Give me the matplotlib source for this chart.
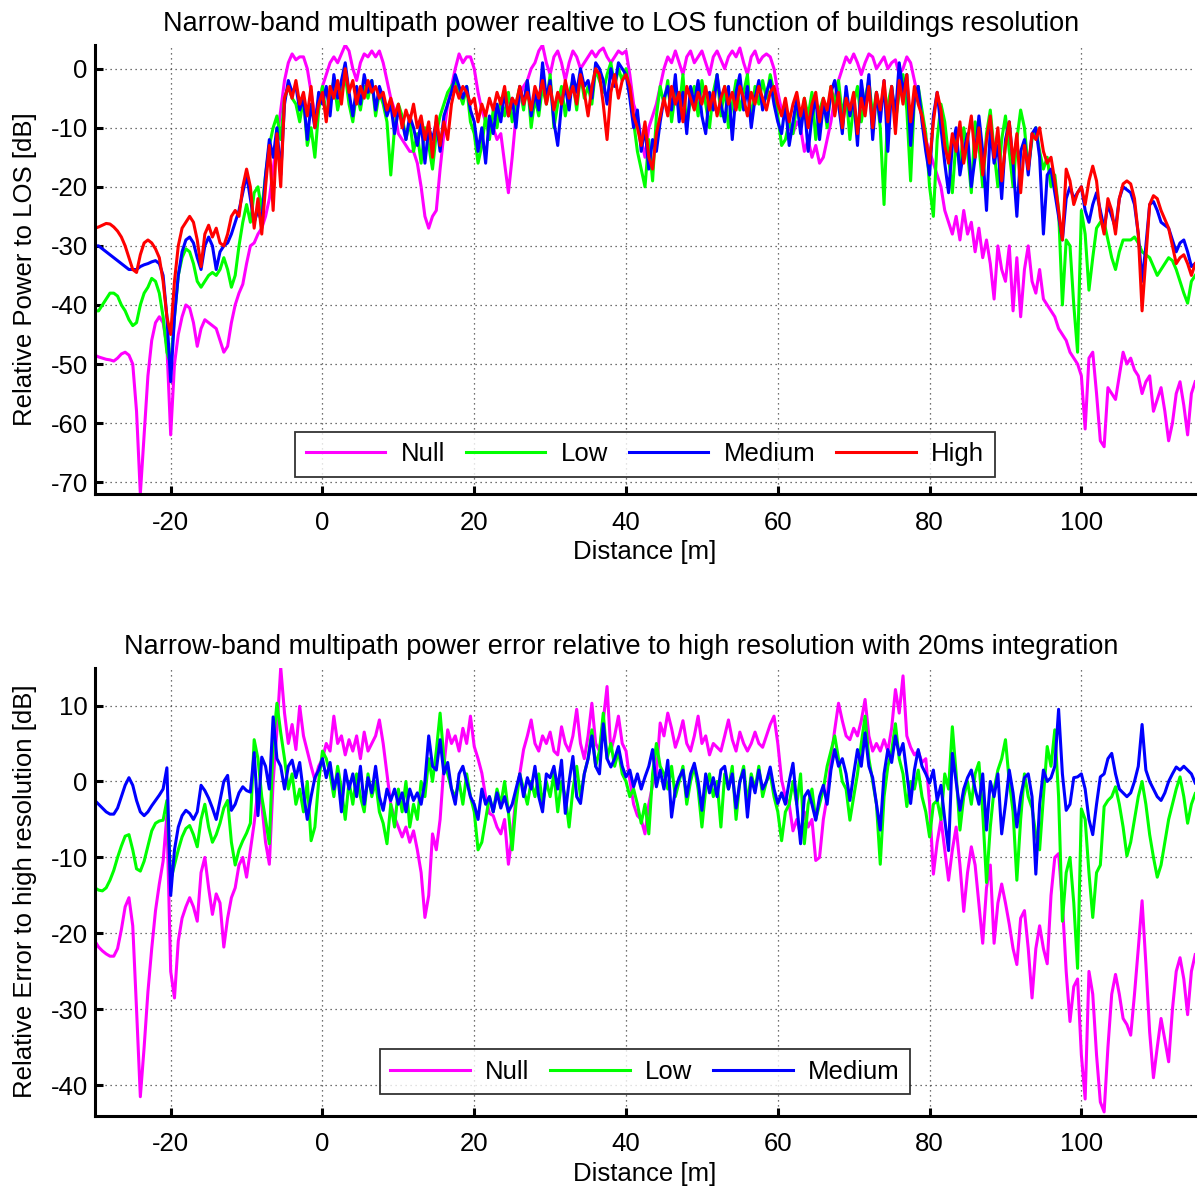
""" Narrow-band multipath power vs buildings resolution """

import numpy as np
import matplotlib
matplotlib.use("Agg")
import matplotlib.pyplot as plt

OUT_FILE = "out.png"
X_START  = -30.0
X_STEP   = 0.5
N_POINTS = 291
FONT_SZ  = 18.5

LABELS_TOP    = ["Null", "Low", "Medium", "High"]
LABELS_BOTTOM = ["Null", "Low", "Medium"]
COLORS        = ["#ff00ff", "#00ff00", "#0000ff", "#ff0000"]

# relative power to LOS [dB], one value every 0.5 m from -30 m to 115 m
top_null = [
    -48.5, -48.8, -49, -49.2, -49.3, -49.5, -49, -48.3, -48, -48.5, -50, -58, -72, -62, -52, -46, -43, -42, -43, -47,
    -62, -50, -45, -42, -40, -40.5, -43, -47, -44, -42.5, -43, -43.5, -44, -46, -48, -47, -43, -40, -38, -36.5,
    -33, -30, -29.5, -28, -27, -25, -22, -17, -12, -7, -2, 1, 2.5, 1.5, 2, 2, 0, -4, -8, -6,
    -3, -1, 1, 2, 1, 2.5, 4, 3, 0, -2, 1, 2.5, 2, 3, 2, 3, 1, -2, -5, -7,
    -11, -12, -13, -14, -14, -16, -20, -25, -27, -25, -24, -17, -11, -6, -3, 0, 2.5, 1, 2, 2,
    0, -4, -7, -9, -11, -10, -12, -11, -16, -21, -15, -8, -5, -3, -2, 0, 1, 3, 4, 1,
    -1, 2, 3, 1, -2, 1, 3, 2, 0, 1, 2, 3, 2, 3, 3.5, 2, 1, 2, 3, 2.5,
    3, -1, -6, -8, -12, -15, -10, -8, -6, -3, 0, 2, 1, 3, 1, -1, 2, 3, 1, 2,
    3, 1, -1, 2, 3, 1.5, 0, 2, 3, 2, 3.5, 1, -1, 2, 3, 1, 2, 2.5, 2, 0,
    -4, -7, -8, -10, -11, -9, -10, -14, -12, -15, -13, -16, -15, -12, -9, -5, -2, 0, 2, 1,
    2.5, 1, -1, 1, 2.5, 2, 0, 1, 2, 0, 1, 1.5, -1, 0, 2, 1, -2, -5, -8, -12,
    -14, -16, -18, -20, -24, -26, -28, -25, -29, -24, -28, -26, -31, -27, -32, -29, -33, -39, -30, -34,
    -36, -30, -41, -32, -42, -34, -30, -36, -38, -34, -39, -40, -41, -42, -44, -45, -46, -48, -49, -50,
    -52, -61, -49, -48, -55, -63, -64, -54, -55, -56, -52, -48, -50, -49, -51, -52, -55, -53, -52, -58,
    -56, -54, -58, -63, -60, -55, -53, -57, -62, -55, -53,
]
top_low = [
    -41, -41, -40, -39, -38, -38, -38.5, -40, -41, -42.5, -43.5, -43, -40, -38, -37, -35.5, -36, -38, -42, -48,
    -50, -42, -35, -32, -30.5, -31, -33, -36, -37, -36, -35, -34.5, -35, -34, -32, -34, -37, -35, -30, -26,
    -23, -26, -21, -20, -24, -18, -13, -10, -8, -12, -5, -3, -5, -6, -9, -5, -13, -10, -15, -7,
    -3, -8, -5, -2, -7, -4, -1, -6, -9, -4, -7, -3, -5, -2, -8, -4, -6, -9, -18, -10,
    -6, -8, -12, -9, -14, -11, -16, -10, -13, -17, -11, -8, -6, -4, -3, -2, -4, -6, -3, -9,
    -11, -16, -13, -8, -12, -7, -10, -5, -8, -4, -9, -6, -3, -7, -2, -10, -5, -8, -3, -6,
    -1, -10, -6, -3, -8, -4, -2, -7, -1, -5, -3, -6, 0, -2, -4, -1, 1, -3, 0, -2,
    0, -4, -9, -14, -17, -20, -12, -19, -8, -3, -6, -2, -9, -4, -7, -1, -10, -5, -3, -8,
    -2, -6, -10, -4, -1, -8, -3, -10, -6, -2, -7, -4, -1, -9, -3, -6, -2, -5, -1, -4,
    -8, -13, -12, -9, -11, -6, -10, -5, -8, -4, -12, -7, -5, -10, -3, -6, -2, -8, -4, -12,
    -6, -3, -9, -5, -2, -8, -4, -10, -23, -6, -3, -9, -4, -1, -7, -19, -5, -3, -7, -11,
    -20, -25, -12, -6, -9, -15, -21, -12, -17, -10, -14, -21, -9, -13, -20, -11, -7, -14, -20, -12,
    -8, -14, -20, -12, -7, -10, -17, -12, -10, -14, -17, -15, -20, -18, -24, -40, -29, -30, -40, -48,
    -24, -28, -37.5, -32, -27, -26, -26, -29, -32, -34, -31, -29, -29, -29, -28.5, -29.5, -31, -31.5, -32, -33.5,
    -35, -34, -33, -32, -32.5, -34, -36, -38, -39.7, -36, -35,
]
top_medium = [
    -30, -30, -30.5, -31, -31.5, -32, -32.5, -33, -33.5, -34, -34, -34, -33.5, -33.2, -33, -32.7, -32.5, -33, -35, -42,
    -53, -42, -35, -31, -29, -28.5, -29.5, -32, -34, -30, -28.5, -30, -34, -31, -30, -29.5, -28, -26, -24, -21,
    -18, -22, -26, -24, -26, -18, -12, -15, -10, -18, -6, -2, -4, -3, -7, -5, -12, -6, -10, -4,
    -6, -3, -8, -1, -5, -2, 1, -4, -8, -3, -6, -1, -4, -2, -7, -3, -5, -8, -6, -11,
    -7, -9, -12, -8, -10, -13, -9, -16, -10, -12, -9, -14, -8, -6, -4, -1, -3, -5, -3, -7,
    -9, -14, -10, -16, -8, -11, -6, -9, -4, -8, -5, -10, -3, -6, -2, -8, -4, -7, 1, -5,
    -2, -9, -13, -6, -3, -7, -1, -4, 0, -3, -2, -5, 1, 0, -2, -6, 0, -3, 1, 0,
    -1, -5, -10, -7, -14, -10, -17, -12, -14, -9, -5, -3, -7, -1, -9, -4, -11, -3, -6, -2,
    -8, -11, -4, -7, -1, -6, -9, -3, -12, -4, -1, -7, -3, -10, -5, -2, -7, -4, -2, -6,
    -9, -11, -6, -13, -9, -5, -11, -6, -14, -8, -5, -12, -6, -9, -4, -2, -6, -11, -3, -8,
    -5, -13, -2, -7, -1, -12, -4, -9, -2, -14, -3, -8, 1, -4, -1, -13, -5, -3, -9, -14,
    -18, -8, -4, -10, -16, -21, -13, -10, -18, -14, -11, -20, -15, -8, -14, -24, -10, -16, -13, -22,
    -12, -9, -16, -25, -14, -12, -18, -11, -10, -15, -28, -18, -17, -21, -25, -29, -22, -20, -22, -21,
    -20, -24, -26, -23, -21, -24, -27, -23, -25, -27, -22, -20, -20.5, -21, -23, -28, -36, -30, -23, -22.5,
    -24, -26, -26.5, -27, -29, -31, -29.5, -29, -31, -33.5, -33,
]
top_high = [
    -27, -26.8, -26.5, -26.2, -26.3, -26.8, -27.5, -28.5, -30, -32, -34, -34.5, -31.5, -29.5, -29, -29.5, -30.5, -32, -36, -42,
    -45, -36, -30, -27, -26, -25, -26, -29, -33.5, -28, -26.5, -28.5, -27, -29.5, -30, -28, -25, -24, -25, -20,
    -17, -20, -27, -22, -28, -20, -13, -24, -11, -20, -5, -3, -5, -2, -6, -4, -8, -3, -10, -6,
    -4, -9, -3, -5, -2, -6, 0, -4, -2, -6, -3, -5, -2, -4, -3, -5, -4, -7, -5, -8,
    -6, -10, -7, -9, -6, -10, -8, -12, -9, -15, -8, -13, -9, -12, -6, -3, -5, -3, -4, -6,
    -5, -9, -6, -8, -5, -7, -4, -6, -3, -8, -5, -6, -3, -6, -4, -7, -3, -5, -2, -6,
    -3, -7, -4, -6, -2, -5, -3, -6, -1, -4, -8, -3, 0, -1, -6, -12, -4, -1, -5, -2,
    -1, -3, -8, -10, -13, -9, -15, -17, -11, -8, -5, -8, -3, -6, -4, -9, -3, -5, -7, -4,
    -6, -3, -7, -4, -8, -5, -3, -6, -4, -7, -3, -5, -8, -4, -6, -3, -5, -7, -4, -3,
    -6, -8, -5, -9, -6, -4, -8, -5, -10, -6, -4, -9, -5, -7, -3, -8, -4, -10, -5, -7,
    -4, -11, -5, -8, -3, -10, -4, -7, -2, -9, -3, -11, -2, -6, -1, -9, -3, -6, -8, -12,
    -16, -9, -4, -7, -13, -16, -11, -14, -9, -16, -12, -8, -15, -10, -18, -12, -8, -15, -10, -19,
    -13, -9, -16, -11, -21, -13, -17, -11, -12, -10, -14, -16, -15, -19, -24, -29, -17, -19, -23, -21,
    -20, -23, -19, -16.5, -19, -25, -28, -22, -24, -28, -22, -19.5, -19, -19.5, -22, -28, -41, -32, -23, -21.5,
    -22, -24, -25.5, -27, -30, -33, -32, -31.5, -33, -35, -33,
]

# error relative to high resolution [dB], same grid
err_null = [
    -21, -21.8, -22.3, -22.7, -23, -23, -22, -19.5, -16.5, -15.3, -19, -30, -41.5, -35, -27.7, -22, -17, -13.5, -10.5, -4.5,
    -25, -28.5, -21, -18, -16.5, -15.3, -16.5, -18.4, -12, -10, -14, -17.5, -14.8, -16, -21.8, -18, -15.3, -14, -11, -10,
    -12.6, -9, -5.5, -1, -3, -8, -10.9, 0, 6.8, 15, 9, 5, 7.5, 4.2, 9.9, 6, 4, 2, 0.2, 2,
    3, 5, 4, 8.6, 5, 6, 3.5, 5.5, 4, 6, 3, 6.5, 4, 5, 6, 8.1, 5, 1, -3, -4.7,
    -6, -7.3, -6, -8, -6.5, -9, -12, -17.9, -15, -6.9, -9, -5, 2, 6.8, 5, 6, 4, 7, 5, 8.6,
    4.6, 3, 1.1, -2, -4.2, -4.5, -6, -6.9, -5, -10.9, -7, -2, 1, 4.2, 6, 8.1, 5, 4, 6, 5,
    6.5, 4, 3.5, 7.2, 5, 4, 6, 9.5, 5, 3, 6, 10.3, 5, 4, 8, 12.5, 4, 6, 8.6, 5,
    4, 0.2, -3, -4.5, -5, -6.9, -3, -0.5, 1, 7.7, 6, 9, 7, 4.5, 6, 8, 5, 4, 6, 8.6,
    5, 6, 3.5, 5, 4.5, 4, 6, 8.1, 5.5, 4, 6.5, 5, 4, 5, 6.5, 5, 4.5, 6, 7.5, 8.6,
    5, 0.2, -2, -3, -6.5, -5, -7, -4, -6, -5, -10.4, -10, -5, -2, 3, 6.8, 10.3, 8, 6, 5.5,
    7, 6, 8, 10.8, 6, 4, 5, 4, 5.5, 4, 7, 12.1, 9, 13.9, 6, 4.5, 3.5, 4, 2.5, 3,
    -2.9, -12.2, -8, -5, -9, -13, -9, -6, -11, -17.1, -12, -8.6, -11, -16.2, -21.3, -14, -11, -21.3, -16, -13.5,
    -16, -18.8, -22, -24.1, -18, -17, -22, -28.5, -22, -19, -22, -24, -15, -10, -9.5, -16, -25, -31.6, -27, -26,
    -36, -41.8, -25, -28, -36, -42.2, -43.5, -35, -28, -25.4, -28, -31.2, -32, -33.4, -28, -22, -15.7, -24, -33, -39,
    -35, -31.2, -34, -36.9, -30, -25, -23.2, -26, -30.7, -25, -22.8,
]
err_low = [
    -14, -14.3, -14.4, -14, -13, -11.7, -10, -8.5, -7.2, -7, -9, -11.5, -11.8, -10.5, -8.5, -6.5, -5.5, -5.2, -5.1, -2.5,
    -13, -11, -9, -7.3, -6.2, -5.8, -7, -8.6, -5, -3, -6, -8, -7, -5.5, -3.5, -2.5, -8, -11, -9, -7.8,
    -6.8, -5.5, 5.5, 3, -2, -5, -8.2, 5, 10.3, 6.4, 3, -1, 1, -3, -1, -4, 0, -7.8, -6, 0,
    4, 3, 1, -2, 2, -1, -5, 0, -3, 1, -2, -4, 1, -2, 0, -4, -5.5, -8.2, -3, -6,
    -1, -4, 0, -6, -3, -5, 0, -2, 3, 0, 4, 9, 3, 1, -1, -2, 0, -3, 1, -2,
    -4, -9, -8, -5, -2, -4, -1, -3, 0, -4, -9, -3, 1, -1, -3, 0, -2, 1, -3, 0,
    -2, 1, -4, 0, -2, -6, -1, 2, -2, 1, 3, 6.8, 2, 4, 9, 3, 5, 2, 4, 1,
    0, -2, -1, -3, -5.5, -3, -6.9, 1, 5, 2, 1, -1, 2, -2, 0, 2, -3, 0, 2, -1,
    -6, -1, 1, -2, 0, -6, 1, -1, 2, -5, 0, 2, -3, 1, -1, 2, -2, 0, 1, -2,
    -4, -7.8, -4, -3, 0, -3, 1, -8.2, -3, -1, -5, -3, -1, 2, 4, 6, 3, 0, -1, -5.1,
    -2, 1, 5, 8.6, 3, 0, -3, -10.9, -2, 2, 4, 7.6, 3, 1, -3.3, 0, -1, 1.5, -2, -4,
    -7.3, -3, -2.5, -5, 1, -1, 7.2, 1, -6.4, -2, 0, -3, 1, 2.5, -4, -13.3, -6, -1, 1.5, 3,
    5.5, 0, -4, -13, -5, 1, -2, -3.5, -7, -9, -2, 4.6, 2, 6.8, -2, -18.4, -12, -10, -16, -24.6,
    -3.6, -5, -12, -17.9, -12, -11, -3.3, -2.5, -2, -0.7, -3, -6, -9.8, -8, -5, -2, 0, -3, -7, -10,
    -12.6, -11, -8, -5, -3, -1, 0.6, -2, -5.5, -3, -1.6,
]
err_medium = [
    -2.5, -3, -3.5, -4, -4.3, -4.3, -3.5, -2, -0.5, 0.5, -0.5, -2.5, -4, -4.5, -4, -3.2, -2.5, -1.8, -1, 1.8,
    -15, -9, -6, -4.5, -3.8, -4.2, -5, -4, -0.5, -1.2, -2.2, -3.5, -5, -2.5, 0, 0.8, -3.8, -3, -1.5, -0.7,
    -1.2, -1.4, 3.8, -4.5, 3.2, 2, -1, 8.5, 3, 2, -1, 2, 2.8, 0.5, 2.5, -1.5, -5, -2, 0.5, 1.5,
    3, 0.5, 2.5, -1, 1, -4, 1.5, -1, 1, -2, 2, -3, 0.5, -1.5, 2, -2, -3.8, -1, -2.5, -1,
    -3, -1.5, -4, -1, -2.5, -1.5, -3, 0, 6, 2, 1.5, 5.5, 1, 2.5, -1, -3, 1, 2, 0, -2,
    -3, -5, -1, -3, -2, -4, -1.5, -3.5, -2, -4, -3, -1, 1, -2, 0.5, -1, 2, -2, -4, 1,
    0.5, 2, -1, 2.8, -4.2, 0, 3.3, -2, -2.9, 1, 3, 6, 2, 1, 7.6, 3, 1.9, 3, 4.6, 2,
    0.6, 1.5, -0.7, 1, -1, 0.6, 2, 4.2, -0.7, 1.5, -1, 2.8, -4.7, -1, 0.5, 1.5, -2, 1, 2.4, 0,
    -3.8, 1, -1.5, 0.5, -2, 1.5, 2, -1, 1, -3.5, 0, 1.5, -4.7, 0.5, -1.5, 1.5, -1, 0, 1.9, -1,
    -2.9, -1.5, -3, 0, 2.4, -3, -8.2, -2, -1.2, -3, -5.1, -2, -0.5, -3, 1.5, 4.2, 2, 3, 1, -2.5,
    1, 4.2, 2, 6.4, 2, 0.5, -3, -6.4, 1, 4.2, 2.5, 6, 3.5, 5, 1, -2.9, 1.5, 4.2, 2, 1,
    -0.2, 1.5, -2.5, -0.5, -5, -9.1, 3.7, 0, -3.8, -1, 0.5, 1.5, -1, -3, 1, -6.4, 0, -2, 1, -6.9,
    -3, 1.5, -1.5, -6, -2, 0.5, 1, -2, -12.2, -3, 1.5, 0, 0.5, 2, 9.5, 1, -3.8, -3, 0.5, 0.6,
    1, -1, -5, -7, -3, 0.6, 1, 3, 3.7, 1, -1, -1.5, -2, -1.5, 0, 2, 7.5, 1.5, 0, -1,
    -2, -2.5, -1.5, 0, 1, 1.9, 1.5, 2, 1.5, 1, -0.2,
]


def style_axes(ax, ylim, yticks):
    """ matlab-ish look: open box, dotted grid, ticks inside """
    ax.set_xlim(-30, 115)
    ax.set_ylim(*ylim)
    ax.set_xticks([-20, 0, 20, 40, 60, 80, 100])
    ax.set_yticks(yticks)
    ax.spines["top"].set_visible(False)
    ax.spines["right"].set_visible(False)
    ax.spines["left"].set_linewidth(2.2)
    ax.spines["bottom"].set_linewidth(2.2)
    ax.tick_params(direction="in", length=6, width=2.2, labelsize=FONT_SZ)
    ax.tick_params(axis="x", pad=12)
    ax.tick_params(axis="y", pad=5)
    ax.grid(True, linestyle=(0, (1, 3)), color="#444444", linewidth=0.9)
    ax.set_axisbelow(True)
    ax.set_xlabel("Distance [m]", fontsize=FONT_SZ, labelpad=4)


def plot_panel(ax, series, labels, title, ylabel, legend_y):
    for values, label, color in zip(series, labels, COLORS):
        assert len(values) == N_POINTS, (label, len(values))
        x_axis = X_START + X_STEP * np.arange(len(values))
        ax.plot(x_axis, values, color=color, linewidth=2.2, label=label)
    ax.set_title(title, fontsize=19.5, pad=10, x=0.478)
    ax.set_ylabel(ylabel, fontsize=FONT_SZ, labelpad=10)
    leg = ax.legend(loc="lower center", bbox_to_anchor=(0.5, legend_y), ncol=len(labels),
                    fontsize=FONT_SZ, frameon=True, fancybox=False, handlelength=3.1,
                    columnspacing=0.8, handletextpad=0.6, borderpad=0.4)
    leg.get_frame().set_edgecolor("black")
    leg.get_frame().set_linewidth(1.3)


def make_figure():
    """ two stacked panels, saved to OUT_FILE """
    plt.rcParams["font.family"] = ["Liberation Sans", "DejaVu Sans"]
    plt.rcParams["axes.unicode_minus"] = False

    fig = plt.figure(figsize=(12, 11.92), dpi=100)

    # upper panel
    ax1 = fig.add_axes([0.079, 0.5856, 0.917, 0.3766])
    plot_panel(ax1, [top_null, top_low, top_medium, top_high], LABELS_TOP,
               "Narrow-band multipath power realtive to LOS function of buildings resolution",
               "Relative Power to LOS [dB]", 0.01)
    style_axes(ax1, (-72, 4), [0, -10, -20, -30, -40, -50, -60, -70])

    # lower panel
    ax2 = fig.add_axes([0.079, 0.064, 0.917, 0.376])
    plot_panel(ax2, [err_null, err_low, err_medium], LABELS_BOTTOM,
               "Narrow-band multipath power error relative to high resolution with 20ms integration",
               "Relative Error to high resolution [dB]", 0.02)
    style_axes(ax2, (-44, 15), [10, 0, -10, -20, -30, -40])

    fig.savefig(OUT_FILE, dpi=100)


if __name__ == "__main__":
    make_figure()
